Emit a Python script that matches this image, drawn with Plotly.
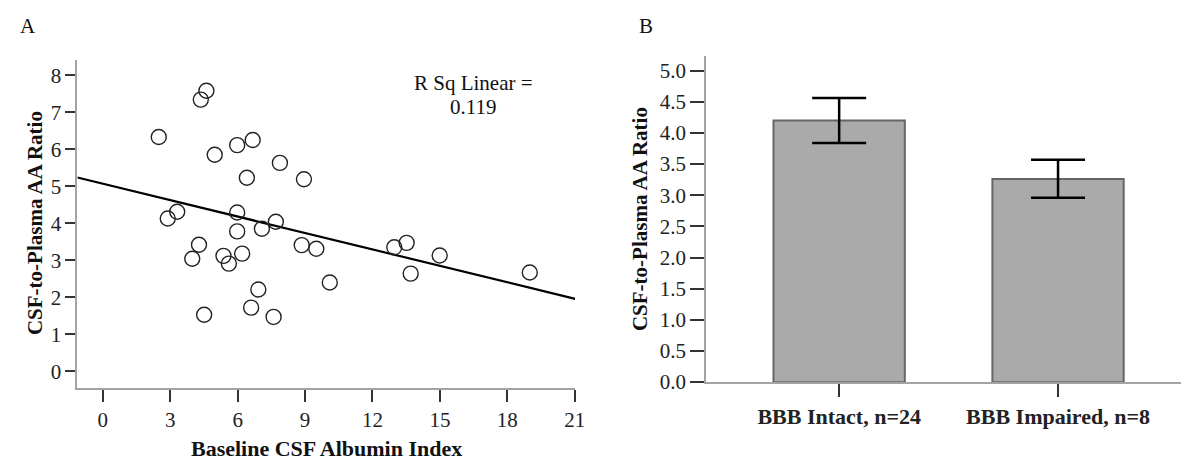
import numpy as np
import plotly.graph_objects as go

# ---------------- Data ----------------
# Panel A: scatter of CSF albumin index vs CSF-to-plasma AA ratio
albumin_index = [2.49, 4.36, 4.61, 4.98, 5.98, 6.67, 7.88, 6.41, 8.95, 2.89, 3.31,
                 5.98, 5.98, 7.08, 7.70, 4.28, 3.98, 5.37, 5.61, 6.20, 6.92, 6.60,
                 4.51, 7.60, 8.85, 9.50, 10.10, 12.97, 13.52, 13.70, 14.99, 19.00]
aa_ratio = [6.33, 7.34, 7.58, 5.85, 6.11, 6.25, 5.63, 5.23, 5.19, 4.13, 4.31,
            4.29, 3.78, 3.85, 4.04, 3.42, 3.04, 3.12, 2.91, 3.18, 2.21, 1.72,
            1.53, 1.47, 3.41, 3.31, 2.40, 3.35, 3.47, 2.64, 3.13, 2.67]
fit_intercept = 5.07
fit_slope = -0.148
r_sq_lines = ["R Sq Linear =", "0.119"]
x_ticks_a = [0, 3, 6, 9, 12, 15, 18, 21]
y_ticks_a = [0, 1, 2, 3, 4, 5, 6, 7, 8]

# Panel B: bar chart with error bars
groups = ["BBB Intact, n=24", "BBB Impaired, n=8"]
group_means = [4.20, 3.26]
err_plus = [0.36, 0.31]
err_minus = [0.36, 0.30]
y_ticks_b = [0.0, 0.5, 1.0, 1.5, 2.0, 2.5, 3.0, 3.5, 4.0, 4.5, 5.0]

# ---------------- Style ----------------
FONT = "Liberation Serif, Times New Roman, serif"
AXIS_GRAY = "#a3a3a3"
TICK_COL = "#333333"

xr_a = [-1.13, 21.02]
fit_x = np.array(xr_a)
fit_y = fit_intercept + fit_slope * fit_x

fig = go.Figure()

fig.add_trace(go.Scatter(
    x=fit_x, y=fit_y, mode="lines",
    line=dict(color="black", width=2.2),
    xaxis="x", yaxis="y", showlegend=False, hoverinfo="skip"))

fig.add_trace(go.Scatter(
    x=albumin_index, y=aa_ratio, mode="markers",
    marker=dict(symbol="circle-open", size=15, color="#222222",
                line=dict(width=1.4, color="#222222")),
    xaxis="x", yaxis="y", showlegend=False))

fig.add_trace(go.Bar(
    x=[0, 1], y=group_means, width=0.6,
    marker=dict(color="#aaaaaa", line=dict(color="#666666", width=2)),
    error_y=dict(type="data", array=err_plus, arrayminus=err_minus,
                 color="black", thickness=2.5, width=27, symmetric=False),
    xaxis="x2", yaxis="y2", showlegend=False))

axis_common = dict(
    showgrid=False, zeroline=False, showline=True, linecolor=AXIS_GRAY,
    linewidth=2, ticks="outside", tickcolor=TICK_COL, tickwidth=2,
    tickfont=dict(family=FONT, size=21, color="#222222"),
)

fig.update_layout(
    width=1189, height=467,
    margin=dict(l=0, r=0, t=0, b=0),
    paper_bgcolor="white", plot_bgcolor="white",
    font=dict(family=FONT, color="#111111"),
    xaxis=dict(domain=[70 / 1189, 572 / 1189], range=xr_a,
               tickvals=x_ticks_a, ticklen=12, anchor="y", **axis_common),
    yaxis=dict(domain=[1 - 390 / 467, 1 - 53 / 467], range=[-0.45, 8.42],
               tickvals=y_ticks_a, ticklen=10, anchor="x", **axis_common),
    xaxis2=dict(domain=[704 / 1189, 1183 / 1189], range=[-0.608, 1.562],
                tickvals=[0, 1], ticktext=["<b>" + g + "</b>" for g in groups],
                ticklen=13, anchor="y2", **axis_common),
    yaxis2=dict(domain=[1 - 384 / 467, 1 - 49 / 467], range=[0, 5.24],
                tickvals=y_ticks_b, ticktext=[f"{v:.1f}" for v in y_ticks_b],
                ticklen=14, anchor="x2", **axis_common),
)
fig.layout.xaxis2.tickfont.size = 22

annos = [
    dict(text="A", x=10 / 1189, y=1 - 18 / 467, xanchor="left", yanchor="middle",
         font=dict(size=21)),
    dict(text="B", x=634 / 1189, y=1 - 18 / 467, xanchor="left", yanchor="middle",
         font=dict(size=21)),
    dict(text=r_sq_lines[0], x=469 / 1189, y=1 - 77 / 467, xanchor="center",
         yanchor="middle", font=dict(size=21)),
    dict(text=r_sq_lines[1], x=469 / 1189, y=1 - 102 / 467, xanchor="center",
         yanchor="middle", font=dict(size=21)),
    dict(text="<b>CSF-to-Plasma AA Ratio</b>", x=28 / 1189, y=1 - 221 / 467,
         xanchor="center", yanchor="middle", textangle=-90, font=dict(size=21)),
    dict(text="<b>Baseline CSF Albumin Index</b>", x=321 / 1189, y=1 - 452 / 467,
         xanchor="center", yanchor="middle", font=dict(size=22)),
    dict(text="<b>CSF-to-Plasma AA Ratio</b>", x=638 / 1189, y=1 - 217 / 467,
         xanchor="center", yanchor="middle", textangle=-90, font=dict(size=21)),
]
for a in annos:
    a.update(xref="paper", yref="paper", showarrow=False)
    a["font"].update(family=FONT, color="#111111")
fig.update_layout(annotations=annos)

fig.write_html("out.html")
